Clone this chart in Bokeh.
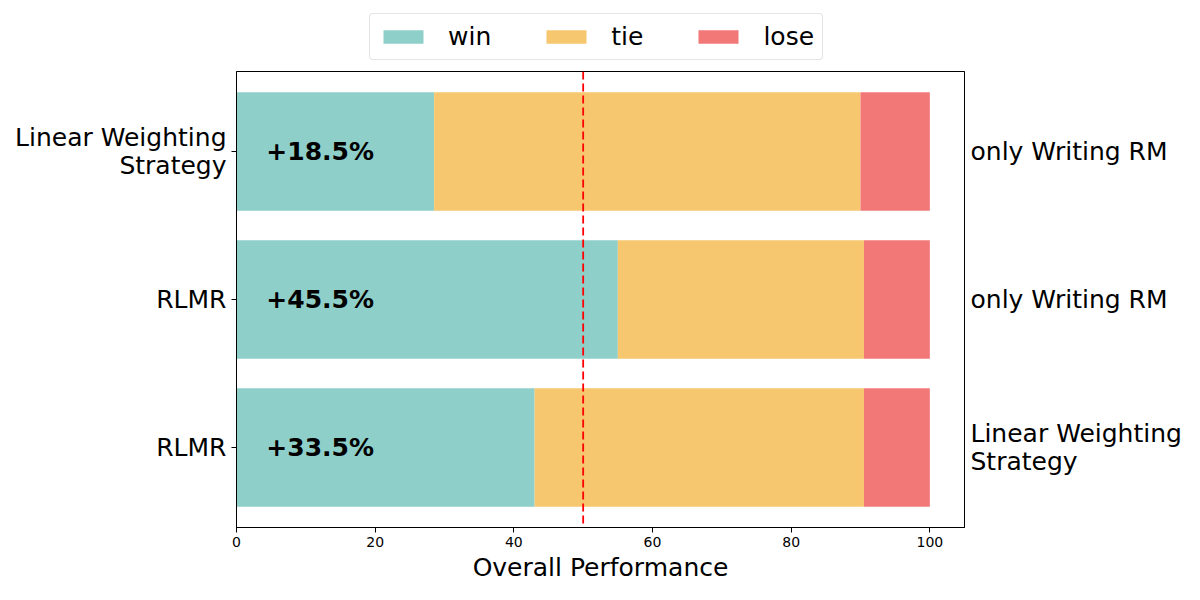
from bokeh.plotting import figure
from bokeh.models import ColumnDataSource, FixedTicker, LinearAxis, Span, Range1d, Legend, LegendItem
from bokeh.layouts import column
from bokeh.core.properties import value
from bokeh.embed import file_html
from bokeh.resources import INLINE

# Data (top row first)
left_names = ["Linear Weighting\nStrategy", "RLMR", "RLMR"]
right_names = ["only Writing RM", "only Writing RM", "Linear Weighting\nStrategy"]
win = [28.5, 55.0, 43.0]
tie = [61.5, 35.5, 47.5]
lose = [10.0, 9.5, 9.5]
net_labels = ["+18.5%", "+45.5%", "+33.5%"]
series = ["win", "tie", "lose"]

colors = ["#8FCFC9", "#F7C76F", "#F27878"]
FONT = "DejaVu Sans"

n = len(win)
ypos = [n - 1 - i for i in range(n)]

src = ColumnDataSource(dict(y=ypos, win=win, tie=tie, lose=lose, lab=net_labels,
                            lx=[4.3] * n))

W = 1184
LEG_H = 64

# ---------- main chart ----------
p = figure(width=W, height=584 - LEG_H,
           min_border_left=236, min_border_right=219,
           min_border_top=7, min_border_bottom=57,
           x_range=Range1d(0, 105), y_range=Range1d(-0.54, 2.54),
           output_backend="svg", toolbar_location=None)

p.hbar_stack(series, y="y", height=0.8, color=colors, line_color=None, source=src)

p.text(x="lx", y="y", text="lab", source=src, text_font=value(FONT),
       text_font_size="25px", text_font_style="bold", text_baseline="middle",
       text_align="left", text_color="black")

p.add_layout(Span(location=50, dimension="height", line_color="#ff0000",
                  line_dash="8 4", line_width=1.8))

p.xgrid.visible = False
p.ygrid.visible = False
p.outline_line_color = "black"
p.outline_line_alpha = 1
p.outline_line_width = 1
p.background_fill_color = "white"
p.border_fill_color = "white"

# x axis
xa = p.xaxis[0]
xa.ticker = FixedTicker(ticks=[0, 20, 40, 60, 80, 100])
xa.minor_tick_line_color = None
xa.major_tick_out = 5
xa.major_tick_in = 0
xa.axis_line_color = "black"
xa.major_tick_line_color = "black"
xa.major_label_text_font = FONT
xa.major_label_text_font_size = "14px"
xa.major_label_text_color = "black"
xa.major_label_standoff = 4
xa.axis_label = "Overall Performance"
xa.axis_label_text_font = FONT
xa.axis_label_text_font_size = "25px"
xa.axis_label_text_font_style = "normal"
xa.axis_label_text_color = "black"
xa.axis_label_standoff = 3

# left y axis
ya = p.yaxis[0]
ya.ticker = FixedTicker(ticks=ypos)
ya.major_label_overrides = {yv: nm for yv, nm in zip(ypos, left_names)}
ya.minor_tick_line_color = None
ya.major_tick_out = 5
ya.major_tick_in = 0
ya.axis_line_color = "black"
ya.major_tick_line_color = "black"
ya.major_label_text_font = FONT
ya.major_label_text_font_size = "25px"
ya.major_label_text_color = "black"
ya.major_label_text_line_height = 0.95
ya.major_label_standoff = 5

# right y axis
ra = LinearAxis(ticker=FixedTicker(ticks=ypos))
ra.major_label_overrides = {yv: nm for yv, nm in zip(ypos, right_names)}
ra.minor_tick_line_color = None
ra.major_tick_line_color = None
ra.major_tick_out = 0
ra.major_tick_in = 0
ra.axis_line_color = "black"
ra.major_label_text_font = FONT
ra.major_label_text_font_size = "25px"
ra.major_label_text_color = "black"
ra.major_label_text_line_height = 0.95
ra.major_label_standoff = 6
p.add_layout(ra, "right")

# ---------- legend strip (same bars, drawn out of view) ----------
lf = figure(width=W, height=LEG_H, x_range=Range1d(0, 105), y_range=Range1d(100, 101),
            x_axis_location=None, y_axis_location=None,
            min_border=0, output_backend="svg", toolbar_location=None)
lf.outline_line_color = None
lf.xgrid.visible = False
lf.ygrid.visible = False
rs = lf.hbar_stack(series, y="y", height=0.8, color=colors, line_color=None, source=src)
items = [LegendItem(label=name, renderers=[rr]) for name, rr in zip(series, rs)]
lg = Legend(items=items, orientation="horizontal", location=(133, 4),
            glyph_width=50, glyph_height=17, label_standoff=20, spacing=50,
            padding=8, margin=0, label_text_font=FONT, label_text_font_size="25px",
            label_text_color="black", label_text_baseline="middle",
            border_line_color="#cccccc", border_line_width=1,
            background_fill_alpha=1)
if "border_radius" in lg.properties():
    lg.border_radius = 4
lf.add_layout(lg, "center")

layout = column(lf, p, spacing=0)
open("out.html", "w").write(file_html(layout, INLINE))
